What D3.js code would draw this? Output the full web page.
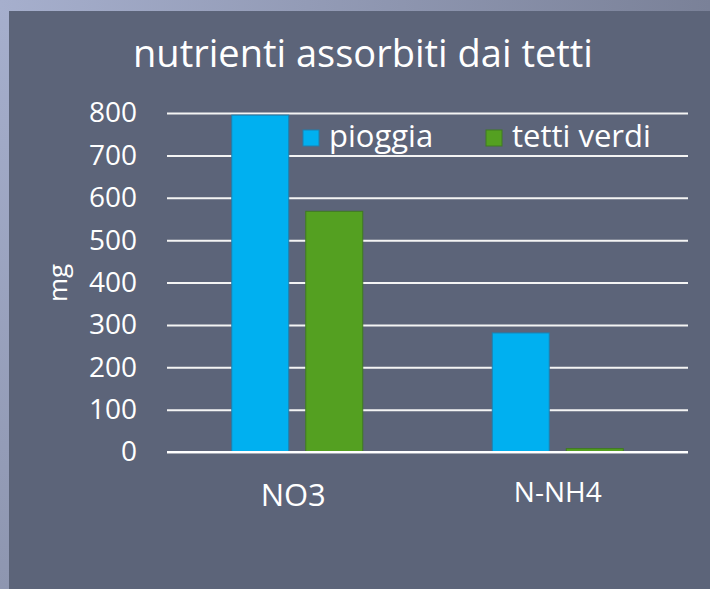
<!DOCTYPE html>
<html>
<head>
<meta charset="utf-8">
<script src="https://cdn.jsdelivr.net/npm/d3@7"></script>
<style>
  html, body { margin: 0; padding: 0; background: #5c6479; }
  svg { display: block; }
  text { font-family: "Open Sans", sans-serif; fill: #ffffff; }
</style>
</head>
<body>
<svg id="svg" width="710" height="589"></svg>
<script>
// chart data
const categories = ["NO3", "N-NH4"];
const series = ["pioggia", "tetti verdi"];
const pioggia = [795, 281];
const tettiVerdi = [568, 8];
const yTicks = [0, 100, 200, 300, 400, 500, 600, 700, 800];
const title = "nutrienti assorbiti dai tetti";
const yLabel = "mg";

const colors = { "pioggia": "#00b0f0", "tetti verdi": "#54a021" };
const strokes = { "pioggia": "#1f7fae", "tetti verdi": "#3f7a22" };

const W = 710, H = 589;
const margin = { top: 113, right: 22, bottom: 137, left: 167 };
const width = W - margin.left - margin.right;
const height = H - margin.top - margin.bottom;

const svg = d3.select("#svg");

// background: light frame on the left and top, slate panel
const defs = svg.append("defs");
const gl = defs.append("linearGradient").attr("id", "frameL")
  .attr("x1", 0).attr("y1", 0).attr("x2", 0).attr("y2", 1);
gl.append("stop").attr("offset", "0%").attr("stop-color", "#a6afcd");
gl.append("stop").attr("offset", "100%").attr("stop-color", "#8e96b0");
const gt = defs.append("linearGradient").attr("id", "frameT")
  .attr("x1", 0).attr("y1", 0).attr("x2", 1).attr("y2", 0);
gt.append("stop").attr("offset", "0%").attr("stop-color", "#a6afcd");
gt.append("stop").attr("offset", "100%").attr("stop-color", "#7a8198");

svg.append("rect").attr("width", W).attr("height", H).attr("fill", "#5c6479");
svg.append("rect").attr("x", 0).attr("y", 0).attr("width", 9).attr("height", H).attr("fill", "url(#frameL)");
svg.append("rect").attr("x", 0).attr("y", 0).attr("width", W).attr("height", 11).attr("fill", "url(#frameT)");

const g = svg.append("g")
  .attr("transform", "translate(" + margin.left + "," + margin.top + ")");

const x0 = d3.scaleBand().domain(categories).range([0, width]).padding(0);
const groupW = 131;
const x1 = d3.scaleBand().domain(series)
  .range([(x0.bandwidth() - groupW) / 2, (x0.bandwidth() + groupW) / 2])
  .paddingInner(0.23);
const y = d3.scaleLinear().domain([0, 800]).range([height, 0]);

// gridlines
g.append("g")
  .call(d3.axisLeft(y).tickValues(yTicks).tickSize(-width).tickFormat(""))
  .call(a => a.select(".domain").remove())
  .call(a => a.selectAll("line").attr("stroke", "#f4f4f4").attr("stroke-width", 2));

// y tick labels
g.append("g")
  .call(d3.axisLeft(y).tickValues(yTicks).tickSize(0).tickPadding(30))
  .call(a => a.select(".domain").remove())
  .call(a => a.selectAll("text")
    .style("font-family", "'Open Sans', sans-serif")
    .attr("font-size", 28).attr("fill", "#ffffff"));

// bars
const rows = categories.map((c, i) => ({ cat: c, values: [
  { key: "pioggia", value: pioggia[i] },
  { key: "tetti verdi", value: tettiVerdi[i] }
] }));

g.selectAll(".grp").data(rows).enter().append("g")
  .attr("class", "grp")
  .attr("transform", d => "translate(" + x0(d.cat) + ",0)")
  .selectAll("rect").data(d => d.values).enter().append("rect")
  .attr("x", d => x1(d.key))
  .attr("width", x1.bandwidth())
  .attr("y", d => y(d.value))
  .attr("height", d => y(0) - y(d.value))
  .attr("fill", d => colors[d.key])
  .attr("stroke", d => strokes[d.key])
  .attr("stroke-width", 1);

// baseline
g.append("line")
  .attr("x1", 0).attr("x2", width)
  .attr("y1", y(0)).attr("y2", y(0))
  .attr("stroke", "#ffffff").attr("stroke-width", 2);

// category labels
const catSize = [31, 28];
const catBase = [506, 502];
const catShift = [-4, 0];
categories.forEach((c, i) => {
  svg.append("text")
    .attr("x", margin.left + x0(c) + x0.bandwidth() / 2 + catShift[i])
    .attr("y", catBase[i])
    .attr("text-anchor", "middle")
    .attr("font-size", catSize[i])
    .text(c);
});

// title
svg.append("text")
  .attr("x", 363).attr("y", 67)
  .attr("text-anchor", "middle")
  .attr("font-size", 38)
  .text(title);

// y label
svg.append("text")
  .attr("transform", "translate(67,283) rotate(-90)")
  .attr("text-anchor", "middle")
  .attr("font-size", 26)
  .text(yLabel);

// legend
const legX = [303, 486];
const leg = svg.append("g");
series.forEach((s, i) => {
  leg.append("rect")
    .attr("x", legX[i]).attr("y", 130)
    .attr("width", 16).attr("height", 16)
    .attr("fill", colors[s]).attr("stroke", strokes[s]).attr("stroke-width", 1);
  leg.append("text")
    .attr("x", legX[i] + 26).attr("y", 147)
    .attr("font-size", 31)
    .text(s);
});
</script>
</body>
</html>
